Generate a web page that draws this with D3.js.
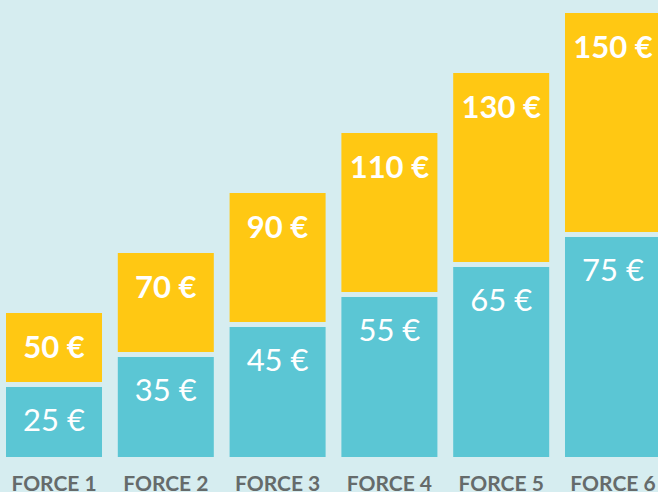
<!DOCTYPE html>
<html>
<head>
<meta charset="utf-8">
<script src="https://cdn.jsdelivr.net/npm/d3@7"></script>
<style>
  html, body { margin: 0; padding: 0; background: #d6edf0; overflow: hidden; }
  svg { display: block; font-family: Lato, "Open Sans", sans-serif; }
</style>
</head>
<body>
<div id="chart"></div>
<script>
const categories = ["FORCE 1", "FORCE 2", "FORCE 3", "FORCE 4", "FORCE 5", "FORCE 6"]
const baseValues = [25, 35, 45, 55, 65, 75]
const totalValues = [50, 70, 90, 110, 130, 150]

const width = 658
const height = 492
const gap = 6

const svg = d3.select("#chart")
  .append("svg")
  .attr("width", width)
  .attr("height", height)

svg.append("rect")
  .attr("width", width)
  .attr("height", height)
  .attr("fill", "#d6edf0")

const x = d3.scaleBand()
  .domain(categories)
  .range([6, 661])
  .paddingInner(0.1413)

const y = d3.scaleLinear()
  .domain([0, 150])
  .range([457, 7])

const data = categories.map((c, i) => ({ cat: c, base: baseValues[i], total: totalValues[i] }))

// bottom (teal) segment
svg.selectAll(".base")
  .data(data)
  .enter()
  .append("rect")
  .attr("x", d => x(d.cat))
  .attr("y", d => y(d.base) + gap - 1)
  .attr("width", x.bandwidth())
  .attr("height", d => y(0) - y(d.base) - gap + 1)
  .attr("fill", "#5bc6d4")

// top (yellow) segment
svg.selectAll(".top")
  .data(data)
  .enter()
  .append("rect")
  .attr("x", d => x(d.cat))
  .attr("y", d => y(d.total) + gap)
  .attr("width", x.bandwidth())
  .attr("height", d => y(d.base) - y(d.total) - gap)
  .attr("fill", "#ffc813")

// labels
svg.selectAll(".totalLabel")
  .data(data)
  .enter()
  .append("text")
  .attr("x", d => x(d.cat) + x.bandwidth() / 2)
  .attr("y", d => y(d.total) + gap + 45)
  .attr("text-anchor", "middle")
  .attr("fill", "#fff")
  .style("font-size", "31px")
  .style("font-weight", "700")
  .text(d => d.total + " €")

svg.selectAll(".baseLabel")
  .data(data)
  .enter()
  .append("text")
  .attr("x", d => x(d.cat) + x.bandwidth() / 2)
  .attr("y", d => y(d.base) + gap + 43)
  .attr("text-anchor", "middle")
  .attr("fill", "#fff")
  .style("font-size", "31px")
  .style("font-weight", "400")
  .text(d => d.base + " €")

// category axis
const axis = svg.append("g")
  .attr("transform", "translate(0," + 491 + ")")
  .call(d3.axisBottom(x).tickSize(0).tickPadding(0))

axis.select(".domain").remove()
axis.selectAll("text")
  .attr("dy", 0)
  .attr("fill", "#656b6b")
  .style("font-family", "Lato, sans-serif")
  .style("font-size", "21px")
  .style("font-weight", "700")
</script>
</body>
</html>
